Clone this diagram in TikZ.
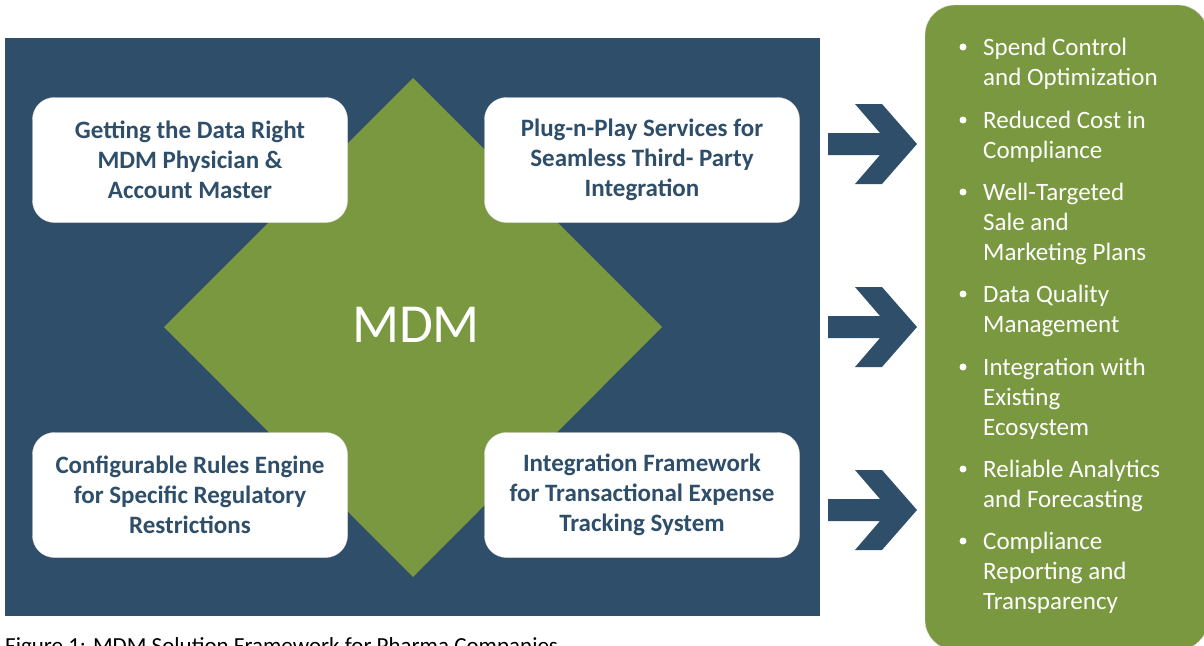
\documentclass[tikz,border=0pt]{standalone}
\usepackage{fontspec}
\setmainfont{Carlito}
\definecolor{navy}{RGB}{46,78,106}
\definecolor{leaf}{RGB}{121,152,63}
\begin{document}
\begin{tikzpicture}[x=1pt,y=-1pt,
  card/.style={fill=white, draw=gray!25, rounded corners=22pt, minimum width=315pt,
    minimum height=125pt, align=center, text=navy,
    font=\bfseries\fontsize{25}{30}\selectfont},
  benefit/.style={anchor=base west, align=left, text=white, inner sep=0pt,
    font=\fontsize{25}{30}\selectfont},
  chevron/.style={fill=navy}]
\useasboundingbox (0,0) rectangle (1204,645);
% framework block
\fill[navy] (5,38) rectangle (820,616);
\fill[leaf] (413,78) -- (662,327) -- (413,577) -- (164,327) -- cycle;
\node[text=white, font=\fontsize{55}{60}\selectfont] (mdm) at (416,325) {MDM};
\node[card] (data) at (190,160) {Getting the Data Right\\MDM Physician \&\\Account Master};
\node[card] (plug) at (642,160) {Plug-n-Play Services for\\Seamless Third- Party\\Integration};
\node[card] (rules) at (190,495) {Configurable Rules Engine\\for Specific Regulatory\\Restrictions};
\node[card] (frame) at (642,495) {Integration Framework\\for Transactional Expense\\Tracking System};
% arrows
\foreach \y in {144,327,510}
  \fill[chevron, shift={(872,\y)}] (-44,-11) -- (8,-11) -- (-17,-40) -- (10,-40) -- (45,0)
    -- (10,40) -- (-17,40) -- (8,11) -- (-44,11) -- cycle;
% benefits (base = last line)
\fill[leaf, draw=gray!30, rounded corners=30pt] (925,5) rectangle (1208,650);
\node[benefit] (b1) at (983,85) {Spend Control\\and Optimization};
\node[benefit] (b2) at (983,158) {Reduced Cost in\\Compliance};
\node[benefit] (b3) at (983,260) {Well-Targeted\\Sale and\\Marketing Plans};
\node[benefit] (b4) at (983,332) {Data Quality\\Management};
\node[benefit] (b5) at (983,435) {Integration with\\Existing\\Ecosystem};
\node[benefit] (b6) at (983,507) {Reliable Analytics\\and Forecasting};
\node[benefit] (b7) at (983,609) {Compliance\\Reporting and\\Transparency};
\foreach \b/\n in {b1/2,b2/2,b3/3,b4/2,b5/3,b6/2,b7/3}
  \fill[white] (\b.base west) ++(-20,{-8-30*(\n-1)}) circle (3.5);
% caption
\node[anchor=base west, inner sep=0pt, font=\fontsize{23}{26}\selectfont] (cap) at (5,653)
  {Figure 1: MDM Solution Framework for Pharma Companies};
\end{tikzpicture}
\end{document}
